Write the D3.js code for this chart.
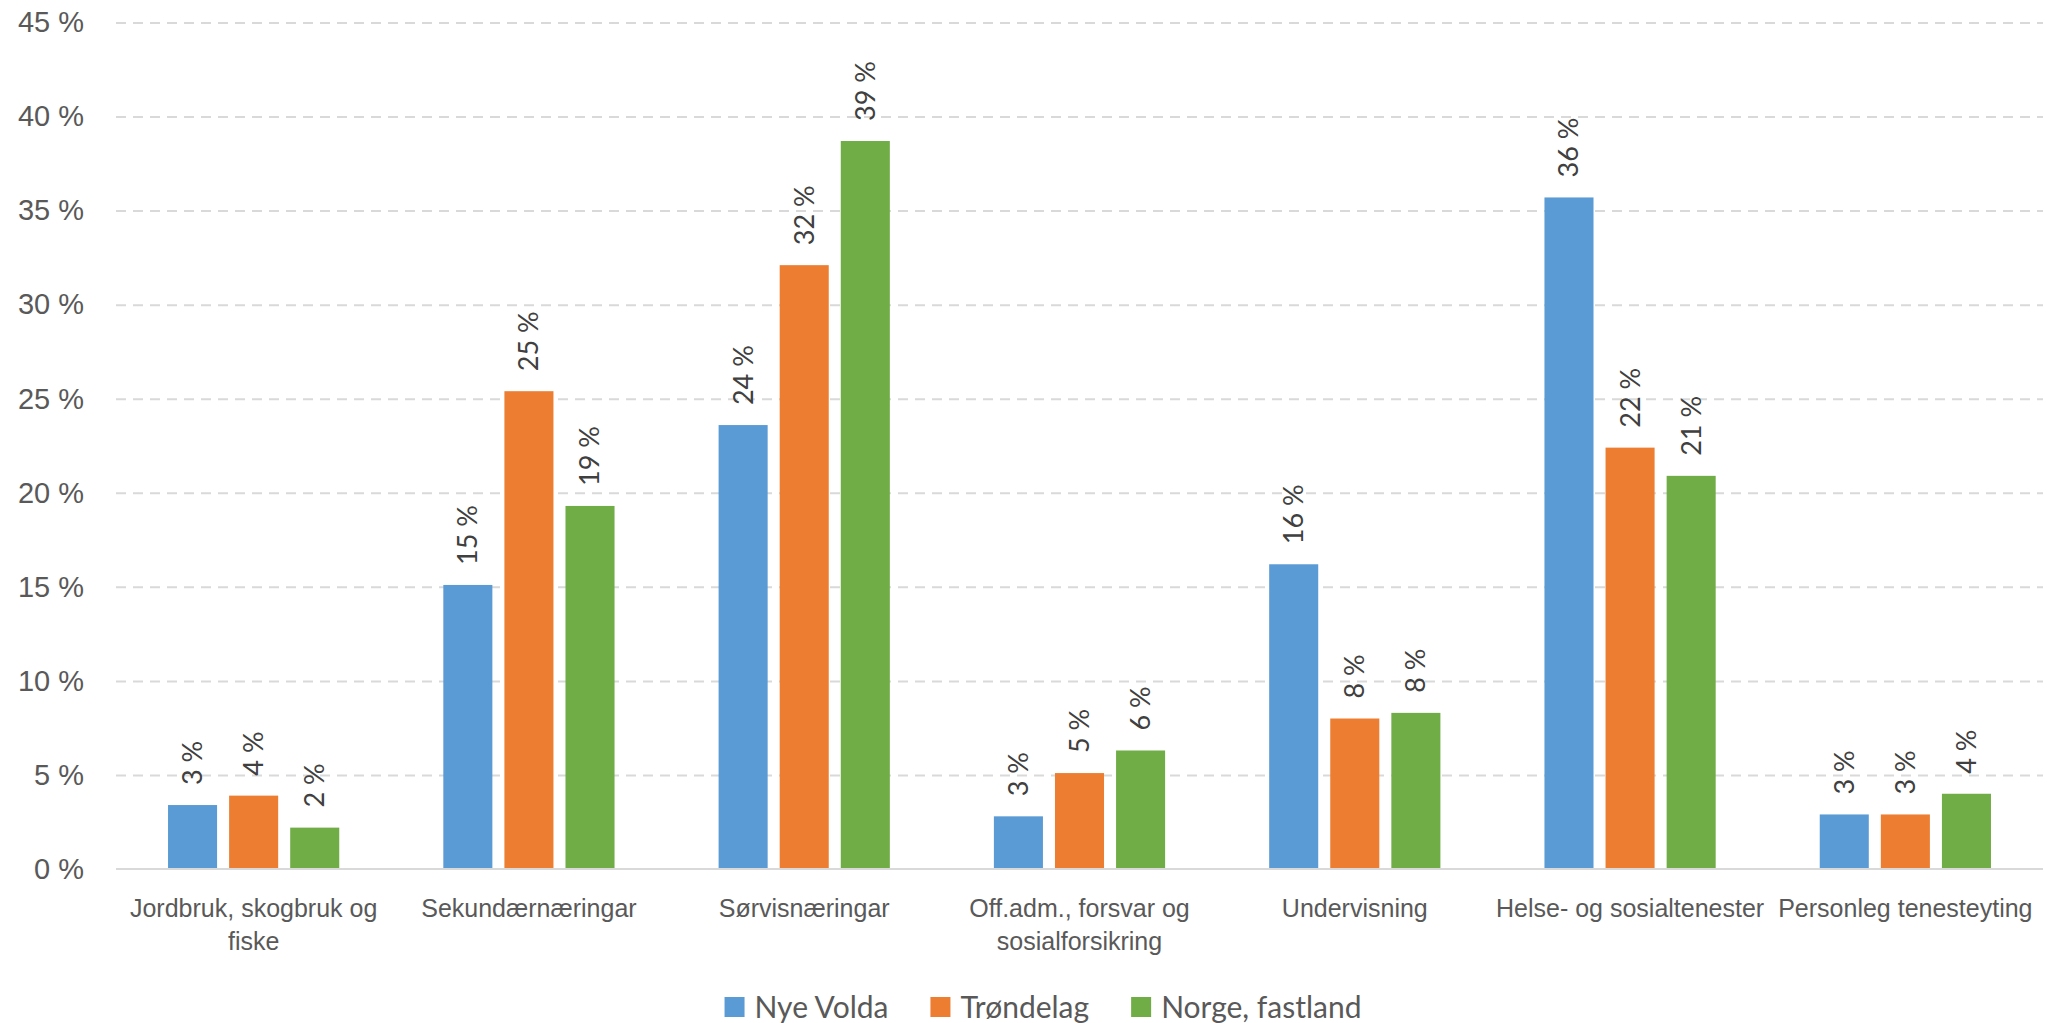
<!DOCTYPE html>
<html>
<head>
<meta charset="utf-8">
<script src="https://cdn.jsdelivr.net/npm/d3@7"></script>
<style>
  body { margin: 0; background: #fff; }
  svg { display: block; font-family: Lato, "Open Sans", sans-serif; }
</style>
</head>
<body>
<svg width="2047" height="1023"></svg>
<script>
const categories = [
  "Jordbruk, skogbruk og\nfiske",
  "Sekundærnæringar",
  "Sørvisnæringar",
  "Off.adm., forsvar og\nsosialforsikring",
  "Undervisning",
  "Helse- og sosialtenester",
  "Personleg tenesteyting"
];
const seriesNames = ["Nye Volda", "Trøndelag", "Norge, fastland"];
const nyeVolda = [3.4, 15.1, 23.6, 2.8, 16.2, 35.7, 2.9];
const trondelag = [3.9, 25.4, 32.1, 5.1, 8.0, 22.4, 2.9];
const norge = [2.2, 19.3, 38.7, 6.3, 8.3, 20.9, 4.0];
const yTicks = [0, 5, 10, 15, 20, 25, 30, 35, 40, 45];
const colors = ["#5B9BD5", "#ED7D31", "#70AD47"];

const series = [nyeVolda, trondelag, norge];
const margin = { left: 116, right: 4, top: 22.5, bottom: 154 };
const width = 2047;
const height = 1023;

const svg = d3.select("svg");

const x0 = d3.scaleBand()
  .domain(categories)
  .range([margin.left, width - margin.right]);

// group of 3 bars is narrower than the band, centred in it
const groupW = x0.bandwidth() * 0.622;
const x1 = d3.scaleBand()
  .domain(seriesNames)
  .range([(x0.bandwidth() - groupW) / 2, (x0.bandwidth() + groupW) / 2])
  .paddingInner(0.197);

const y = d3.scaleLinear().domain([0, 45]).range([height - margin.bottom, margin.top]);

// gridlines + y labels
const yAxis = svg.append("g")
  .attr("transform", `translate(${margin.left},0)`)
  .call(d3.axisLeft(y)
    .tickValues(yTicks)
    .tickSize(-(width - margin.left - margin.right))
    .tickPadding(32)
    .tickFormat((d) => d + " %"));
yAxis.select(".domain").remove();
yAxis.selectAll("line")
  .attr("stroke", "#d9d9d9")
  .attr("stroke-width", 2)
  .attr("stroke-dasharray", "10,7")
  .attr("opacity", (d) => (d === 0 ? 0 : 1));
yAxis.selectAll("text")
  .attr("fill", "#595959")
  .style("font-size", "29px");

// bars
const groups = svg.append("g")
  .selectAll("g")
  .data(categories)
  .join("g")
  .attr("transform", (d) => `translate(${x0(d)},0)`);

groups.selectAll("rect")
  .data((d, i) => seriesNames.map((s, j) => ({ s, j, v: series[j][i] })))
  .join("rect")
  .attr("x", (d) => x1(d.s))
  .attr("width", x1.bandwidth())
  .attr("y", (d) => y(d.v))
  .attr("height", (d) => y(0) - y(d.v))
  .attr("fill", (d) => colors[d.j]);

groups.selectAll("text.val")
  .data((d, i) => seriesNames.map((s, j) => ({ s, j, v: series[j][i] })))
  .join("text")
  .attr("class", "val")
  .attr("transform", (d) => `translate(${x1(d.s) + x1.bandwidth() / 2},${y(d.v) - 20}) rotate(-90)`)
  .attr("dy", "0.35em")
  .attr("fill", "#404040")
  .style("font-size", "27px")
  .text((d) => Math.round(d.v) + " %");

// x axis line
svg.append("line")
  .attr("x1", margin.left)
  .attr("x2", width - margin.right)
  .attr("y1", y(0))
  .attr("y2", y(0))
  .attr("stroke", "#d9d9d9")
  .attr("stroke-width", 2);

// category labels
const xAxis = svg.append("g")
  .attr("transform", `translate(0,${y(0)})`)
  .call(d3.axisBottom(x0).tickSize(0).tickFormat(""));
xAxis.select(".domain").remove();
xAxis.selectAll(".tick").append("text")
  .attr("fill", "#595959")
  .attr("text-anchor", "middle")
  .style("font-size", "25px")
  .selectAll("tspan")
  .data((d) => d.split("\n"))
  .join("tspan")
  .attr("x", 0)
  .attr("y", (d, i) => 48 + i * 33)
  .text((d) => d);

// legend
const legend = svg.append("g").attr("transform", "translate(0,1007)");
const items = legend.selectAll("g")
  .data(seriesNames)
  .join("g");
items.append("rect")
  .attr("y", -10)
  .attr("width", 20)
  .attr("height", 20)
  .attr("fill", (d, i) => colors[i]);
items.append("text")
  .attr("x", 30)
  .attr("dy", "0.35em")
  .attr("fill", "#595959")
  .style("font-size", "30px")
  .text((d) => d);

let pos = 0;
const offsets = [];
items.each(function () {
  offsets.push(pos);
  pos += this.getBBox().width + 42;
});
const total = pos - 42;
const start = 1043 - total / 2;
items.attr("transform", (d, i) => `translate(${start + offsets[i]},0)`);
</script>
</body>
</html>
